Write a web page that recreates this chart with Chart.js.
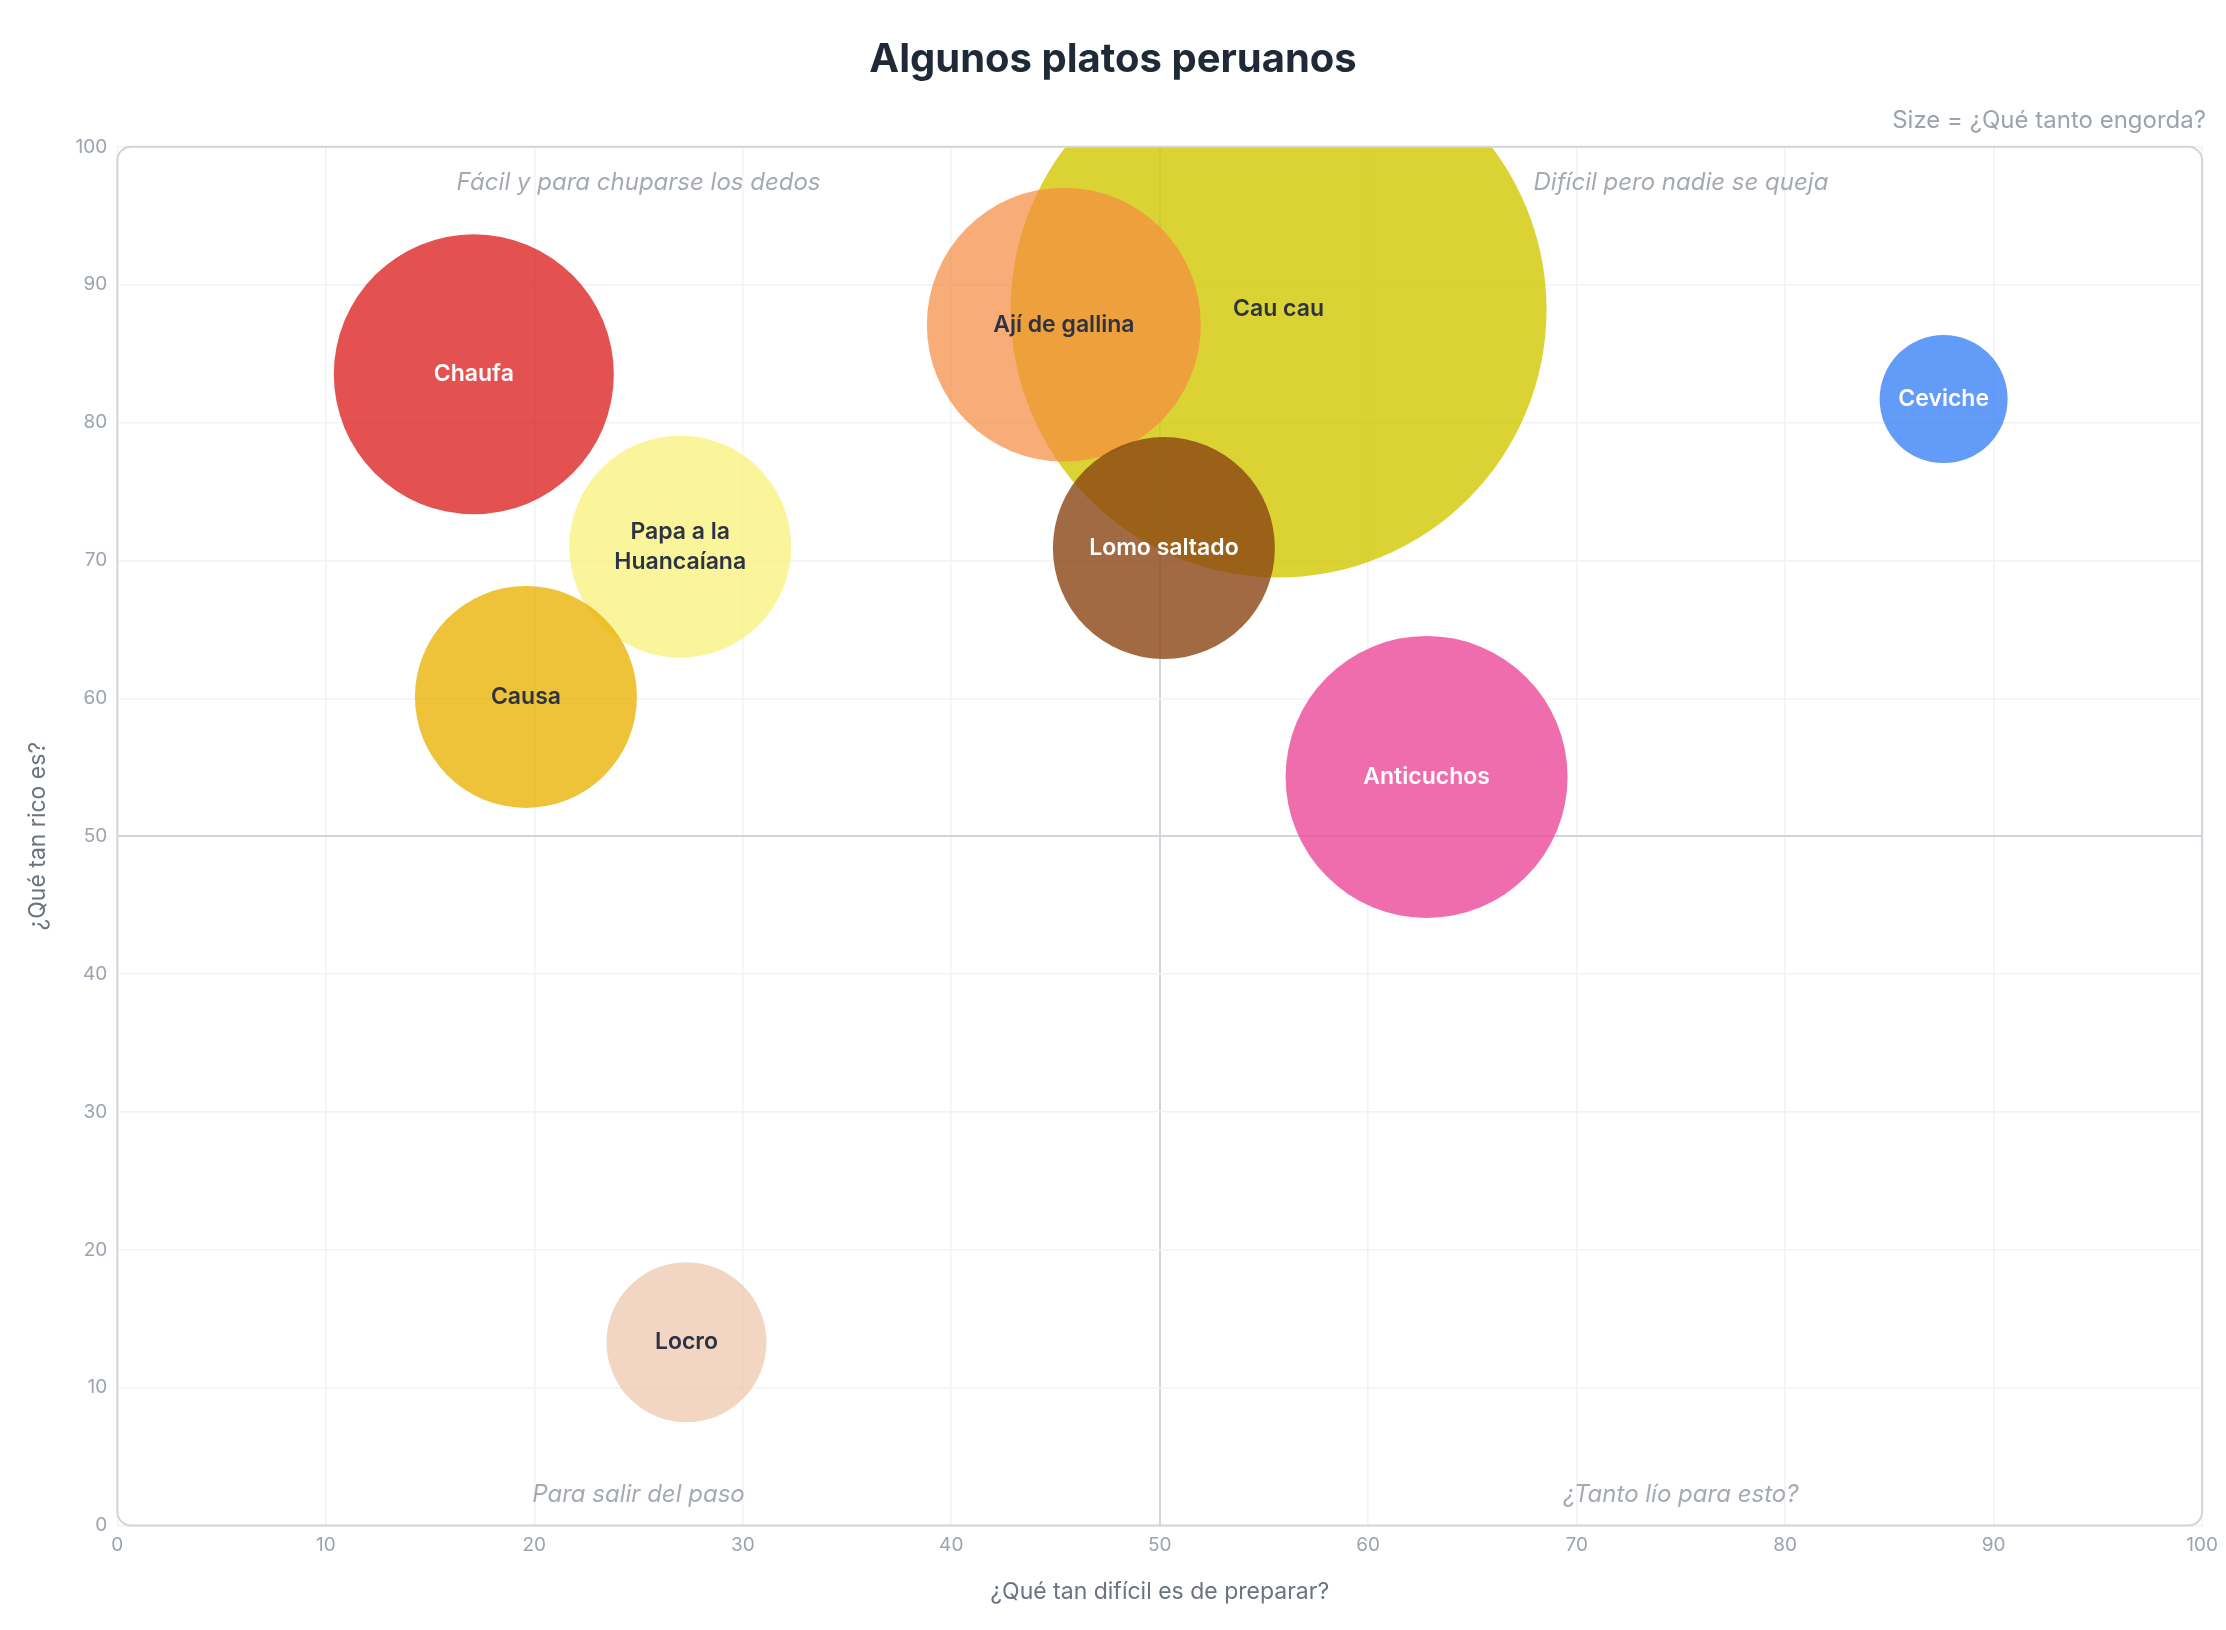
<!DOCTYPE html>
<html><head><meta charset="utf-8">
<script src="https://cdn.jsdelivr.net/npm/chart.js@4"></script>
<style>html,body{margin:0;padding:0;background:#fff}#wrap{width:2226px;height:1630px}</style>
</head><body><div id="wrap"><canvas id="c"></canvas></div>
<script>
const dishes = ["Chaufa","Papa a la\nHuancaíana","Causa","Locro","Cau cau","Ají de gallina","Lomo saltado","Anticuchos","Ceviche"];
const difficulty = [17.1, 27.0, 19.6, 27.3, 55.7, 45.4, 50.2, 62.8, 87.6];
const tastiness = [83.5, 71.0, 60.1, 13.3, 88.2, 87.1, 70.9, 54.3, 81.7];
const fattening = [140, 111, 111, 80, 268, 137, 111, 141, 64];
const colors = ["rgba(220,38,38,0.8)","rgba(249,243,130,0.8)","rgba(234,179,8,0.8)","rgba(237,196,170,0.7)","rgba(210,200,0,0.8)","rgba(245,138,62,0.7)","rgba(139,69,19,0.8)","rgba(236,72,153,0.8)","rgba(59,130,246,0.8)"];
const labelColors = ["#fff","#2d3342","#2d3342","#2d3342","#2d3342","#2d3342","#fff","#fff","#fff"];
const quadrants = [
  {text:"Fácil y para chuparse los dedos", x:25, y:97.4},
  {text:"Difícil pero nadie se queja", x:75, y:97.4},
  {text:"Para salir del paso", x:25, y:2.2},
  {text:"¿Tanto lío para esto?", x:75, y:2.2}
];
const tickFont = {family:"Inter", size:19};
const decor = {
  id:'decor',
  beforeDatasetsDraw(chart){
    const {ctx, scales:{x,y}} = chart;
    ctx.save();
    ctx.font = "italic 24px Inter";
    ctx.fillStyle = "#a5a9b2";
    ctx.textAlign = "center"; ctx.textBaseline = "middle";
    quadrants.forEach(q=>ctx.fillText(q.text, x.getPixelForValue(q.x), y.getPixelForValue(q.y)));
    ctx.restore();
  },
  afterDatasetsDraw(chart){
    const {ctx, chartArea:a} = chart;
    const meta = chart.getDatasetMeta(0);
    ctx.save();
    ctx.font = "600 23px Inter";
    ctx.textAlign = "center"; ctx.textBaseline = "middle";
    meta.data.forEach((el,i)=>{
      const lines = dishes[i].split("\n");
      ctx.fillStyle = labelColors[i];
      lines.forEach((l,k)=>ctx.fillText(l, el.x, el.y + (k-(lines.length-1)/2)*30));
    });
    ctx.strokeStyle = "#d1d5db"; ctx.lineWidth = 2;
    ctx.beginPath(); ctx.roundRect(a.left, a.top, a.right-a.left, a.bottom-a.top, 14); ctx.stroke();
    ctx.restore();
  }
};
new Chart(document.getElementById('c'), {
  type:'bubble',
  data:{datasets:[{
    data: dishes.map((d,i)=>({x:difficulty[i], y:tastiness[i], r:fattening[i]})),
    backgroundColor: colors, borderWidth:0, hoverBorderWidth:0,
    clip:{left:0,right:0,top:0,bottom:0}
  }]},
  options:{
    responsive:true, maintainAspectRatio:false, animation:false,
    layout:{autoPadding:false, padding:{left:20,right:20,top:0,bottom:20}},
    plugins:{
      legend:{display:false}, tooltip:{enabled:false},
      title:{display:true, text:"Algunos platos peruanos", color:"#1f2937", font:{family:"Inter", size:40, weight:"bold"}, padding:{top:36,bottom:22}},
      subtitle:{display:true, text:"Size = ¿Qué tanto engorda?", align:"end", color:"#9ca3af", font:{family:"Inter", size:24}, padding:{bottom:12}}
    },
    scales:{
      x:{min:0,max:100, border:{display:false},
        ticks:{stepSize:10, color:"#9ca3af", font:tickFont, padding:8},
        grid:{color:c=>c.tick && c.tick.value===50 ? "#d1d5db" : "#f1f2f4", lineWidth:c=>c.tick && c.tick.value===50?2:1.5, drawTicks:false},
        title:{display:true, text:"¿Qué tan difícil es de preparar?", color:"#6b7280", font:{family:"Inter", size:23}, padding:{top:14}}},
      y:{min:0,max:100, border:{display:false},
        ticks:{stepSize:10, color:"#9ca3af", font:tickFont, padding:10},
        grid:{color:c=>c.tick && c.tick.value===50 ? "#d1d5db" : "#f1f2f4", lineWidth:c=>c.tick && c.tick.value===50?2:1.5, drawTicks:false},
        title:{display:true, text:"¿Qué tan rico es?", color:"#6b7280", font:{family:"Inter", size:23}, padding:{bottom:14}}}
    }
  },
  plugins:[decor]
});
</script></body></html>
